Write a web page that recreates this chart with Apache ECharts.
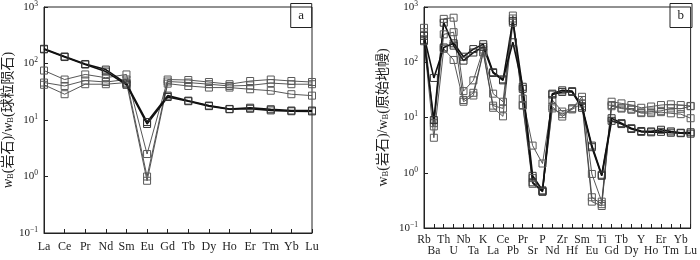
<!DOCTYPE html>
<html>
<head>
<meta charset="utf-8">
<script src="https://cdn.jsdelivr.net/npm/echarts@6/dist/echarts.min.js"></script>
<style>
html, body { margin: 0; padding: 0; background: #fff; }
#chart { width: 700px; height: 260px; }
</style>
</head>
<body>
<div id="chart"></div>
<script>
// panel a: chondrite normalised REE
const reeElements = ['La', 'Ce', 'Pr', 'Nd', 'Sm', 'Eu', 'Gd', 'Tb', 'Dy', 'Ho', 'Er', 'Tm', 'Yb', 'Lu'];
const reeH1 = [182, 133, 98, 78, 44, 9.2, 27, 22, 18, 15.7, 16.5, 15.5, 14.7, 14.7];
const reeH2 = [178, 130, 96, 72, 42, 8.5, 25.5, 21.5, 17.6, 15.5, 15.8, 14.8, 14.3, 14.2];
const reeL3 = [75, 52, 64, 56, 64, 2.5, 52, 51, 47, 43, 49, 52, 49, 47];
const reeL4 = [46, 40, 50, 47, 52, 1.0, 48, 46, 43, 40, 41, 45, 43, 43];
const reeL5 = [42, 28.6, 43, 43, 46, 0.84, 44, 40, 37.5, 37.5, 35, 33, 28.6, 27];

// panel b: primitive mantle normalised spider diagram
const spiderElements = ['Rb', 'Ba', 'Th', 'U', 'Nb', 'Ta', 'K', 'La', 'Ce', 'Pb', 'Pr', 'Sr', 'P', 'Nd',
  'Zr', 'Hf', 'Sm', 'Eu', 'Ti', 'Gd', 'Tb', 'Dy', 'Y', 'Ho', 'Er', 'Tm', 'Yb', 'Lu'];
const spH1 = [300, 52, 185, 220, 126, 173, 212, 66, 49, 230, 36, 0.88, 0.48, 27, 31, 30, 16, 3.1, 0.92, 9.7, 7.9, 6.4, 5.7, 5.6, 6.0, 5.6, 5.3, 5.4];
const spH2 = [250, 9, 520, 200, 107, 150, 190, 64, 47, 560, 33, 0.67, 0.46, 26, 29, 29, 15, 2.9, 0.88, 8.7, 7.6, 6.2, 5.5, 5.4, 5.5, 5.3, 5.2, 5.1];
const spL3 = [420, 7.9, 610, 640, 30, 47, 170, 27, 19.3, 700, 22, 3.1, 1.47, 20.7, 12.8, 14.6, 23.7, 0.95, 0.30, 19.3, 18, 16.8, 15, 15.8, 16.8, 17.3, 16.8, 16.2];
const spL4 = [350, 6.9, 320, 350, 20.7, 28, 155, 16.4, 14.6, 620, 16.8, 0.8, 0.46, 15.8, 10.4, 14.6, 20.7, 0.36, 0.27, 16.8, 15, 14.4, 12.4, 12.8, 13.2, 14.6, 14.4, 16];
const spL5 = [240, 4.3, 175, 110, 19.3, 25, 150, 15, 10.5, 520, 16.4, 0.63, 0.45, 14.6, 11.5, 14, 18, 0.3, 0.25, 16, 14.5, 13.8, 12, 12, 12.5, 11.9, 11.5, 9.7];

const yMin = 0.1;
const yMax = 1000;

const serif = 'Liberation Serif';
const cjk = '"Liberation Serif", "Noto Sans CJK SC"';
const ink = '#222';

const superLabel = v => {
  const e = Math.round(Math.log10(v));
  return '{b|10}{s|' + (e < 0 ? '\u2212' + (-e) : e) + '}';
};

const labelRich = {
  b: { fontSize: 11, fontFamily: serif, color: ink, lineHeight: 14 },
  s: { fontSize: 7.5, fontFamily: serif, color: ink, verticalAlign: 'top', lineHeight: 8 }
};

const nameRich = italic => ({
  i: { fontSize: 14, fontFamily: serif, fontStyle: italic ? 'italic' : 'normal', color: ink },
  sub: { fontSize: 8.5, fontFamily: serif, verticalAlign: 'bottom', color: ink, lineHeight: 11 }
});

const makeY = (gridIndex, name, italic, gap) => ({
  type: 'log',
  logBase: 10,
  gridIndex,
  min: yMin,
  max: yMax,
  splitNumber: 4,
  name,
  nameLocation: 'middle',
  nameGap: gap,
  nameTextStyle: { fontFamily: cjk, fontSize: 14, color: ink, rich: nameRich(italic) },
  axisLine: { show: true, lineStyle: { color: ink, width: 1 } },
  axisTick: { show: true, inside: true, length: 4, lineStyle: { color: ink } },
  axisLabel: { margin: 6, formatter: superLabel, rich: labelRich },
  splitLine: { show: false }
});

const makeX = (gridIndex, data, twoRows) => ({
  type: 'category',
  gridIndex,
  data,
  boundaryGap: false,
  axisLine: { show: true, lineStyle: { color: ink, width: 1 } },
  axisTick: { show: true, inside: true, length: 4, interval: 0, lineStyle: { color: ink } },
  axisLabel: {
    interval: 0,
    margin: twoRows ? 6 : 7,
    fontFamily: serif,
    fontSize: twoRows ? 11.5 : 12,
    lineHeight: twoRows ? 11.5 : 14,
    color: ink,
    formatter: (v, i) => (twoRows && i % 2 === 1 ? '\n' + v : v)
  },
  splitLine: { show: false }
});

const makeSeries = (data, axisIndex, heavy) => ({
  type: 'line',
  data,
  xAxisIndex: axisIndex,
  yAxisIndex: axisIndex,
  symbol: 'rect',
  symbolSize: 7,
  showAllSymbol: true,
  lineStyle: { color: heavy ? '#111' : '#444', width: heavy ? 1.6 : 0.9 },
  itemStyle: { color: 'rgba(255,255,255,0)', borderColor: heavy ? '#333' : '#5a5a5a', borderWidth: 1 },
  emphasis: { disabled: true }
});

const boxTitle = (text, right) => ({
  text,
  right,
  top: 3,
  padding: [6, 8],
  borderColor: ink,
  borderWidth: 1,
  textStyle: { fontFamily: serif, fontSize: 13, fontWeight: 'normal', color: ink }
});

const option = {
  animation: false,
  backgroundColor: '#fff',
  title: [boxTitle('a', 388), boxTitle('b', 8)],
  grid: [
    { left: 44, top: 3, width: 268, height: 230, show: true, borderColor: ink, borderWidth: 1 },
    { left: 424, top: 3, width: 268, height: 225, show: true, borderColor: ink, borderWidth: 1 }
  ],
  xAxis: [makeX(0, reeElements, false), makeX(1, spiderElements, true)],
  yAxis: [
    makeY(0, '{i|w}{sub|B}(岩石)/{i|w}{sub|B}(球粒陨石)', true, 29),
    makeY(1, '{i|w}{sub|B}(岩石)/{i|w}{sub|B}(原始地幔)', false, 34)
  ],
  series: [
    makeSeries(reeL3, 0, false),
    makeSeries(reeL4, 0, false),
    makeSeries(reeL5, 0, false),
    makeSeries(reeH1, 0, true),
    makeSeries(reeH2, 0, true),
    makeSeries(spL3, 1, false),
    makeSeries(spL4, 1, false),
    makeSeries(spL5, 1, false),
    makeSeries(spH1, 1, true),
    makeSeries(spH2, 1, true)
  ]
};

const myChart = echarts.init(document.getElementById('chart'), null, { renderer: 'canvas' });
myChart.setOption(option);
</script>
</body>
</html>
